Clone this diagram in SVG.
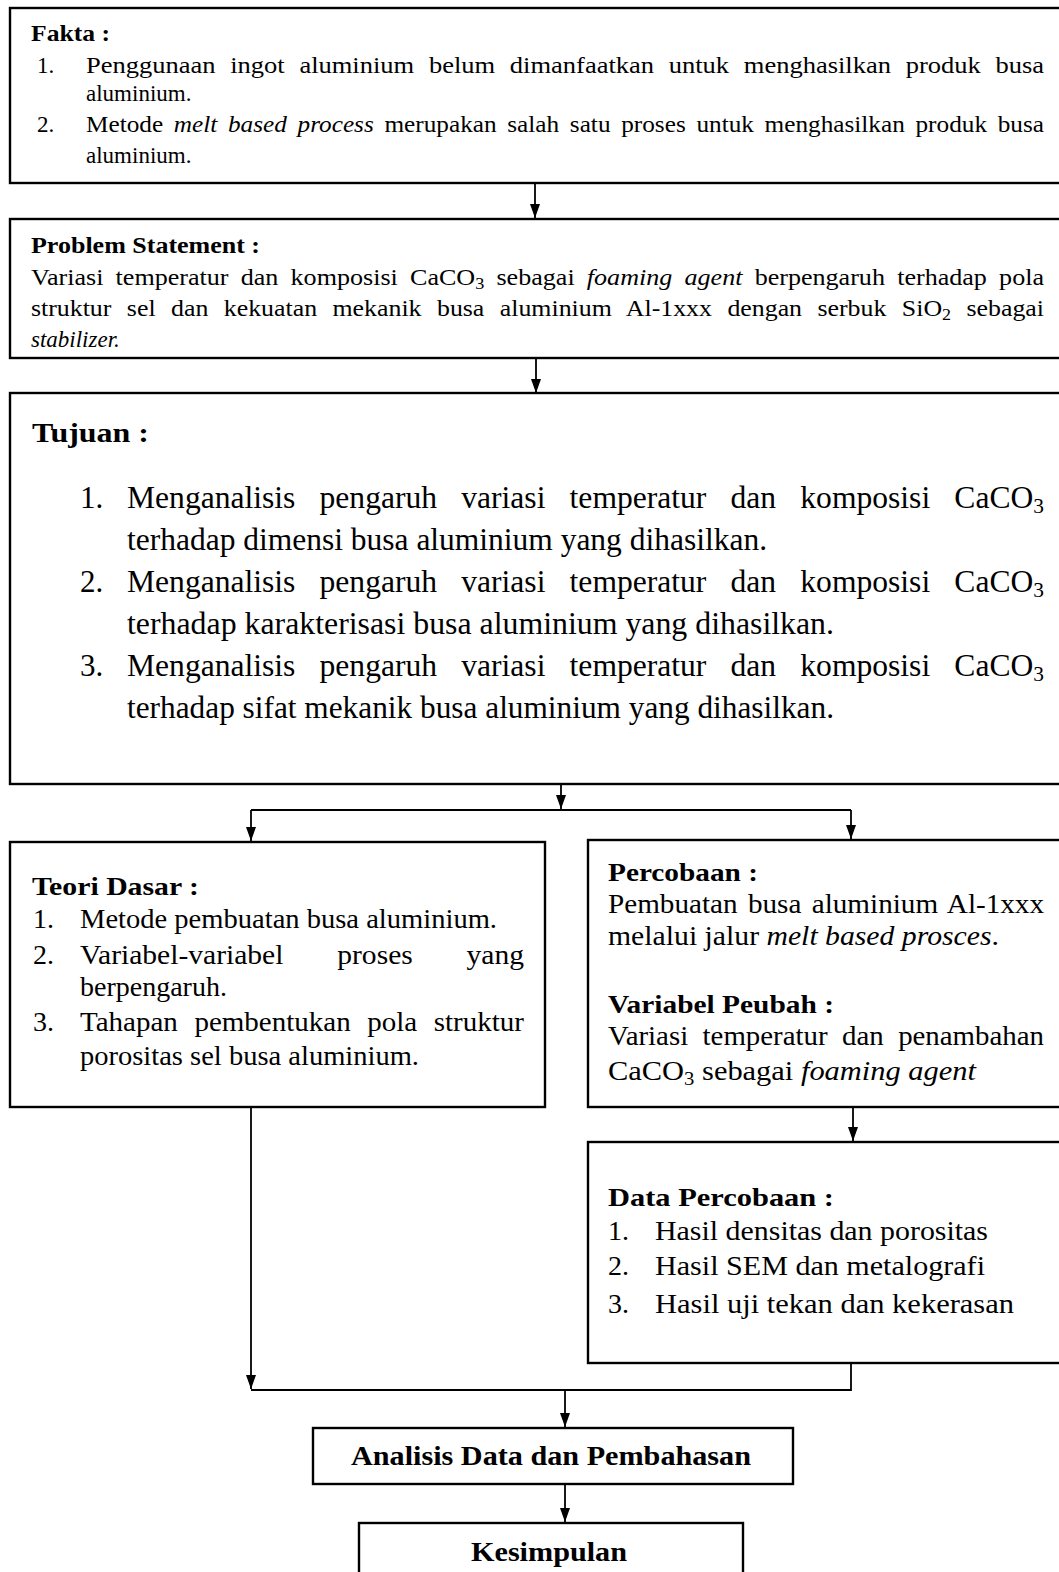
<svg xmlns="http://www.w3.org/2000/svg" width="1059" height="1572" viewBox="0 0 1059 1572">
<style>
text{font-family:"Liberation Serif","Times New Roman",serif;fill:#000}
.b{font-weight:bold}
.i{font-style:italic}
.f1{font-size:23px}
.f2{font-size:31px}
.f3{font-size:28px}
.box{fill:#fff;stroke:#000;stroke-width:2.4}
.ln{fill:none;stroke:#000;stroke-width:1.8}
</style>
<defs>
<marker id="ah" viewBox="0 0 14 10" refX="14" refY="5" markerWidth="14" markerHeight="10" markerUnits="userSpaceOnUse" orient="auto">
<path d="M0,0 L14,5 L0,10 z" fill="#000"/>
</marker>
</defs>
<rect width="1059" height="1572" fill="#fff"/>

<g id="connectors">
<path class="ln" d="M535,183 V218" marker-end="url(#ah)"/>
<path class="ln" d="M536,358 V393" marker-end="url(#ah)"/>
<path class="ln" d="M561,784 V809" marker-end="url(#ah)"/>
<path class="ln" d="M251,810 H851"/>
<path class="ln" d="M251,810 V841" marker-end="url(#ah)"/>
<path class="ln" d="M851,810 V839" marker-end="url(#ah)"/>
<path class="ln" d="M853,1107 V1141" marker-end="url(#ah)"/>
<path class="ln" d="M251,1107 V1389" marker-end="url(#ah)"/>
<path class="ln" d="M251,1390 H851 V1363"/>
<path class="ln" d="M565,1390 V1427" marker-end="url(#ah)"/>
<path class="ln" d="M565,1484 V1522" marker-end="url(#ah)"/>
</g>

<g id="fakta">
<rect class="box" x="10" y="8" width="1060" height="175"/>
<text class="b" x="31" y="41" font-size="23" textLength="79" lengthAdjust="spacingAndGlyphs">Fakta :</text>
<text class="f1" x="37" y="73">1.</text>
<text class="f1" x="86" y="73" word-spacing="7" textLength="958" lengthAdjust="spacingAndGlyphs">Penggunaan ingot aluminium belum dimanfaatkan untuk menghasilkan produk busa</text>
<text class="f1" x="86" y="101">aluminium.</text>
<text class="f1" x="37" y="132">2.</text>
<text class="f1" x="86" y="132" word-spacing="4" textLength="958" lengthAdjust="spacingAndGlyphs">Metode <tspan class="i">melt based process</tspan> merupakan salah satu proses untuk menghasilkan produk busa</text>
<text class="f1" x="86" y="163">aluminium.</text>
</g>

<g id="problem">
<rect class="box" x="10" y="219" width="1060" height="139"/>
<text class="b" x="31" y="253" font-size="23" textLength="229" lengthAdjust="spacingAndGlyphs">Problem Statement :</text>
<text class="f1" x="31" y="285" word-spacing="5" textLength="1013" lengthAdjust="spacingAndGlyphs">Variasi temperatur dan komposisi CaCO<tspan font-size="16" dy="4">3</tspan><tspan dy="-4"> sebagai </tspan><tspan class="i">foaming agent</tspan> berpengaruh terhadap pola</text>
<text class="f1" x="31" y="316" word-spacing="8" textLength="1013" lengthAdjust="spacingAndGlyphs">struktur sel dan kekuatan mekanik busa aluminium Al-1xxx dengan serbuk SiO<tspan font-size="16" dy="4">2</tspan><tspan dy="-4"> sebagai</tspan></text>
<text class="f1 i" x="31" y="347">stabilizer.</text>
</g>

<g id="tujuan">
<rect class="box" x="10" y="393" width="1060" height="391"/>
<text class="b" x="32" y="442" font-size="28" textLength="117" lengthAdjust="spacingAndGlyphs">Tujuan :</text>
<text class="f2" x="80" y="508">1.</text>
<text class="f2" x="127" y="508" word-spacing="16" textLength="917" lengthAdjust="spacingAndGlyphs">Menganalisis pengaruh variasi temperatur dan komposisi CaCO<tspan font-size="21" dy="5">3</tspan></text>
<text class="f2" x="127" y="550" textLength="640" lengthAdjust="spacingAndGlyphs">terhadap dimensi busa aluminium yang dihasilkan.</text>
<text class="f2" x="80" y="592">2.</text>
<text class="f2" x="127" y="592" word-spacing="16" textLength="917" lengthAdjust="spacingAndGlyphs">Menganalisis pengaruh variasi temperatur dan komposisi CaCO<tspan font-size="21" dy="5">3</tspan></text>
<text class="f2" x="127" y="634" textLength="707" lengthAdjust="spacingAndGlyphs">terhadap karakterisasi busa aluminium yang dihasilkan.</text>
<text class="f2" x="80" y="676">3.</text>
<text class="f2" x="127" y="676" word-spacing="16" textLength="917" lengthAdjust="spacingAndGlyphs">Menganalisis pengaruh variasi temperatur dan komposisi CaCO<tspan font-size="21" dy="5">3</tspan></text>
<text class="f2" x="127" y="718" textLength="707" lengthAdjust="spacingAndGlyphs">terhadap sifat mekanik busa aluminium yang dihasilkan.</text>
</g>

<g id="teori">
<rect class="box" x="10" y="842" width="535" height="265"/>
<text class="b" x="32" y="895" font-size="26" textLength="167" lengthAdjust="spacingAndGlyphs">Teori Dasar :</text>
<text class="f3" x="33" y="928">1.</text>
<text class="f3" x="80" y="928" textLength="417" lengthAdjust="spacingAndGlyphs">Metode pembuatan busa aluminium.</text>
<text class="f3" x="33" y="964">2.</text>
<text class="f3" x="80" y="964" word-spacing="44" textLength="444" lengthAdjust="spacingAndGlyphs">Variabel-variabel proses yang</text>
<text class="f3" x="80" y="996">berpengaruh.</text>
<text class="f3" x="33" y="1031">3.</text>
<text class="f3" x="80" y="1031" word-spacing="9" textLength="444" lengthAdjust="spacingAndGlyphs">Tahapan pembentukan pola struktur</text>
<text class="f3" x="80" y="1065" textLength="339" lengthAdjust="spacingAndGlyphs">porositas sel busa aluminium.</text>
</g>

<g id="percobaan">
<rect class="box" x="588" y="840" width="480" height="267"/>
<text class="b" x="608" y="881" font-size="26" textLength="150" lengthAdjust="spacingAndGlyphs">Percobaan :</text>
<text class="f3" x="608" y="913" word-spacing="3" textLength="436" lengthAdjust="spacingAndGlyphs">Pembuatan busa aluminium Al-1xxx</text>
<text class="f3" x="608" y="945" textLength="391" lengthAdjust="spacingAndGlyphs">melalui jalur <tspan class="i">melt based prosces</tspan>.</text>
<text class="b" x="608" y="1013" font-size="26" textLength="226" lengthAdjust="spacingAndGlyphs">Variabel Peubah :</text>
<text class="f3" x="608" y="1045" word-spacing="7" textLength="436" lengthAdjust="spacingAndGlyphs">Variasi temperatur dan penambahan</text>
<text class="f3" x="608" y="1080" textLength="368" lengthAdjust="spacingAndGlyphs">CaCO<tspan font-size="19" dy="5">3</tspan><tspan dy="-5"> sebagai </tspan><tspan class="i">foaming agent</tspan></text>
</g>

<g id="data">
<rect class="box" x="588" y="1142" width="480" height="221"/>
<text class="b" x="608" y="1206" font-size="26" textLength="226" lengthAdjust="spacingAndGlyphs">Data Percobaan :</text>
<text class="f3" x="608" y="1240">1.</text>
<text class="f3" x="655" y="1240" textLength="333" lengthAdjust="spacingAndGlyphs">Hasil densitas dan porositas</text>
<text class="f3" x="608" y="1275">2.</text>
<text class="f3" x="655" y="1275" textLength="330" lengthAdjust="spacingAndGlyphs">Hasil SEM dan metalografi</text>
<text class="f3" x="608" y="1313">3.</text>
<text class="f3" x="655" y="1313" textLength="359" lengthAdjust="spacingAndGlyphs">Hasil uji tekan dan kekerasan</text>
</g>

<g id="analisis">
<rect class="box" x="313" y="1428" width="480" height="56"/>
<text class="b" x="351" y="1465" font-size="28" textLength="400" lengthAdjust="spacingAndGlyphs">Analisis Data dan Pembahasan</text>
</g>

<g id="kesimpulan">
<rect class="box" x="359" y="1523" width="384" height="60"/>
<text class="b" x="471" y="1561" font-size="28" textLength="156" lengthAdjust="spacingAndGlyphs">Kesimpulan</text>
</g>
</svg>
